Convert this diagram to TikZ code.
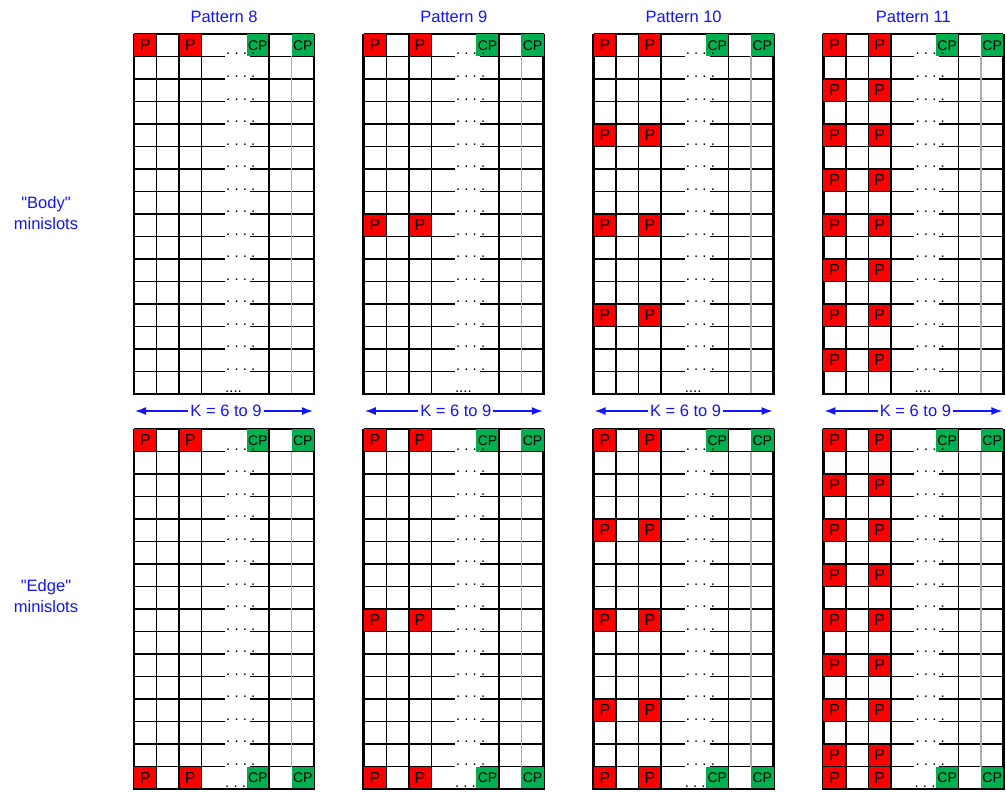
\documentclass[tikz,border=0pt]{standalone}
\usepackage{fontspec}
\setmainfont{Liberation Sans}
\usepackage{tikz}
\usetikzlibrary{arrows.meta}

\definecolor{slotred}{RGB}{255,0,0}
\definecolor{slotgreen}{RGB}{0,176,80}
\definecolor{labelblue}{RGB}{20,20,255}
\definecolor{gridgray}{RGB}{175,175,175}

\tikzset{
  gridline/.style={line width=1.6pt},
  gridframe/.style={line width=2.8pt},
  graysep/.style={line width=1.6pt, draw=gridgray},
  pfill/.style={fill=slotred},
  cpfill/.style={fill=slotgreen},
  celltext/.style={font=\fontsize{16}{18}\selectfont, inner sep=0pt},
  cptext/.style={font=\fontsize{14}{16}\selectfont, inner sep=0pt},
  dotsrow/.style={font=\fontsize{15}{16}\selectfont, inner sep=0pt, anchor=base west},
  patterntitle/.style={font=\fontsize{16.5}{19}\selectfont, text=labelblue, anchor=base},
  sidelabel/.style={font=\fontsize{16.5}{19}\selectfont, text=labelblue, anchor=base},
  klabel/.style={font=\fontsize{16.5}{19}\selectfont, text=labelblue, fill=white, inner sep=2pt},
  karrow/.style={<->, >={Latex[length=11pt,width=8pt]}, draw=labelblue, line width=1.5pt},
}

% #1 name, #2 x, #3 y, #4 rows with P, #5 rows with CP, #6 end of the gray line, #7 dots on the last line
\newcommand{\minislotgrid}[7]{%
\begin{scope}[shift={(#2,#3)}]
  \draw[gridline] (0,0) -- (180,0);
  \draw[gridframe] (0,0) -- (0,360);
  \draw[gridframe] (180,0) -- (180,360);
  \foreach \r in {#4} {
    \fill[pfill] (0,\r*22.5) rectangle ++(22.5,22.5);
    \fill[pfill] (45,\r*22.5) rectangle ++(22.5,22.5);
  }
  \foreach \r in {#5} {
    \fill[cpfill] (112.5,\r*22.5) rectangle ++(22.5,22.5);
    \fill[cpfill] (157.5,\r*22.5) rectangle ++(22.5,22.5);
  }
  \foreach \c in {22.5,45,67.5,135}
    \draw[gridline] (\c,0) -- (\c,360);
  \foreach \j in {1,...,15} {
    \draw[gridline] (0,\j*22.5) -- (91,\j*22.5);
    \draw[gridline] (116,\j*22.5) -- (180,\j*22.5);
  }
  \draw[graysep] (157.5,22.5) -- (157.5,#6);
  \draw[gridframe] (-1.4,360) -- (181.4,360);
  \foreach \r in {#4} {
    \node[celltext] (#1-pa-\r) at (11.25,\r*22.5+11.25) {P};
    \node[celltext] (#1-pb-\r) at (56.25,\r*22.5+11.25) {P};
  }
  \foreach \r in {#5} {
    \node[cptext] (#1-cpa-\r) at (123.75,\r*22.5+11.25) {CP};
    \node[cptext] (#1-cpb-\r) at (168.75,\r*22.5+11.25) {CP};
  }
  \foreach \j in {1,...,15}
    \node[dotsrow] (#1-dots-\j) at (92,\j*22.5-1.5) {.\ .\ .\ .};
  \node[dotsrow] (#1-dots-16) at (91,358) {#7};
\end{scope}}

\begin{document}
\begin{tikzpicture}[x=1pt,y=-1pt]
\useasboundingbox (0,0) rectangle (1006,792);

% row labels
\node[sidelabel] (body-q) at (46,208) {\textquotedbl Body\textquotedbl};
\node[sidelabel] (body-m) at (46,229) {minislots};
\node[sidelabel] (edge-q) at (46,591) {\textquotedbl Edge\textquotedbl};
\node[sidelabel] (edge-m) at (46,612) {minislots};

% body minislots
\minislotgrid{b8}{134}{34}{0}{0}{360}{....}
\minislotgrid{b9}{363.8}{34}{0,8}{0}{360}{....}
\minislotgrid{b10}{593.6}{34}{0,4,8,12}{0}{360}{....}
\minislotgrid{b11}{823.4}{34}{0,2,...,14}{0}{360}{....}

% edge minislots
\minislotgrid{e8}{134}{429}{0,15}{0,15}{337.5}{.\ .\ .}
\minislotgrid{e9}{363.8}{429}{0,8,15}{0,15}{337.5}{.\ .\ .}
\minislotgrid{e10}{593.6}{429}{0,4,8,12,15}{0,15}{337.5}{.\ .\ .}
\minislotgrid{e11}{823.4}{429}{0,2,...,14,15}{0,15}{337.5}{.\ .\ .}

% titles and K arrows
\foreach \i/\n in {0/8,1/9,2/10,3/11} {
  \node[patterntitle] (title-\n) at (224+229.8*\i,23) {Pattern \n};
  \coordinate (kl-\n) at (135+229.8*\i,411);
  \coordinate (kr-\n) at (313+229.8*\i,411);
  \draw[karrow] (kl-\n) -- node[klabel,xshift=2pt] (k-\n) {K = 6 to 9} (kr-\n);
}
\end{tikzpicture}
\end{document}
